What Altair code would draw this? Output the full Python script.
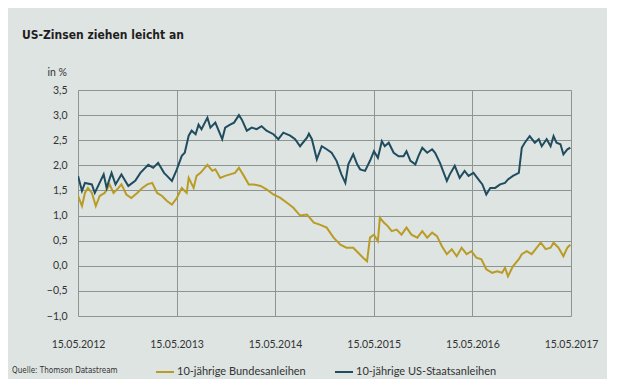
import altair as alt
import pandas as pd

# ---- data ----
us_year = [2012.37, 2012.41, 2012.44, 2012.51, 2012.54, 2012.63, 2012.66, 2012.71, 2012.75, 2012.81,
           2012.88, 2012.95, 2013.00, 2013.08, 2013.13, 2013.18, 2013.24, 2013.27, 2013.32, 2013.37,
           2013.42, 2013.45, 2013.49, 2013.52, 2013.56, 2013.59, 2013.62, 2013.68, 2013.71, 2013.76,
           2013.83, 2013.86, 2013.91, 2013.95, 2014.00, 2014.03, 2014.08, 2014.13, 2014.18, 2014.23,
           2014.28, 2014.35, 2014.40, 2014.45, 2014.52, 2014.57, 2014.62, 2014.69, 2014.71, 2014.74,
           2014.79, 2014.84, 2014.89, 2014.94, 2014.99, 2015.04, 2015.08, 2015.11, 2015.16, 2015.20,
           2015.23, 2015.28, 2015.33, 2015.37, 2015.41, 2015.45, 2015.48, 2015.52, 2015.57, 2015.62,
           2015.67, 2015.70, 2015.74, 2015.79, 2015.82, 2015.86, 2015.91, 2015.96, 2015.99, 2016.04,
           2016.11, 2016.14, 2016.19, 2016.24, 2016.29, 2016.33, 2016.38, 2016.43, 2016.47, 2016.51,
           2016.55, 2016.60, 2016.65, 2016.70, 2016.73, 2016.78, 2016.84, 2016.87, 2016.90, 2016.95,
           2017.00, 2017.04, 2017.07, 2017.12, 2017.16, 2017.19, 2017.22, 2017.26, 2017.29, 2017.33,
           2017.36]
us_value = [1.79, 1.49, 1.65, 1.62, 1.45, 1.82, 1.55, 1.85, 1.62, 1.82,
            1.59, 1.69, 1.85, 2.01, 1.95, 2.05, 1.85, 1.79, 1.69, 1.92,
            2.19, 2.25, 2.59, 2.69, 2.62, 2.81, 2.72, 2.95, 2.75, 2.85,
            2.52, 2.75, 2.81, 2.85, 3.00, 2.91, 2.69, 2.75, 2.72, 2.78,
            2.69, 2.62, 2.52, 2.65, 2.59, 2.52, 2.38, 2.55, 2.63, 2.52,
            2.12, 2.38, 2.32, 2.25, 2.09, 1.82, 1.65, 2.02, 2.22, 2.02,
            1.92, 1.89, 2.09, 2.28, 2.15, 2.48, 2.38, 2.45, 2.25, 2.18,
            2.18, 2.28, 2.09, 2.02, 2.18, 2.35, 2.25, 2.32, 2.25, 2.05,
            1.69, 1.82, 1.99, 1.75, 1.89, 1.79, 1.85, 1.72, 1.62, 1.42,
            1.55, 1.55, 1.62, 1.65, 1.72, 1.79, 1.85, 2.35, 2.45, 2.58,
            2.45, 2.52, 2.38, 2.52, 2.38, 2.58, 2.45, 2.42, 2.22, 2.32,
            2.35]

de_year = [2012.37, 2012.41, 2012.44, 2012.47, 2012.51, 2012.55, 2012.59, 2012.64, 2012.69, 2012.73,
           2012.78, 2012.81, 2012.86, 2012.91, 2012.97, 2013.02, 2013.07, 2013.12, 2013.17, 2013.22,
           2013.27, 2013.32, 2013.37, 2013.42, 2013.47, 2013.49, 2013.54, 2013.57, 2013.61, 2013.64,
           2013.68, 2013.73, 2013.76, 2013.81, 2013.86, 2013.91, 2013.96, 2014.00, 2014.05, 2014.10,
           2014.15, 2014.22, 2014.28, 2014.35, 2014.42, 2014.49, 2014.55, 2014.62, 2014.69, 2014.76,
           2014.82, 2014.89, 2014.96, 2015.03, 2015.09, 2015.16, 2015.21, 2015.26, 2015.30, 2015.33,
           2015.37, 2015.41, 2015.43, 2015.47, 2015.51, 2015.55, 2015.60, 2015.65, 2015.70, 2015.75,
           2015.81, 2015.86, 2015.91, 2015.96, 2016.01, 2016.06, 2016.11, 2016.16, 2016.21, 2016.26,
           2016.31, 2016.36, 2016.41, 2016.46, 2016.51, 2016.57, 2016.62, 2016.67, 2016.70, 2016.73,
           2016.78, 2016.84, 2016.87, 2016.92, 2016.97, 2017.02, 2017.06, 2017.11, 2017.16, 2017.19,
           2017.24, 2017.29, 2017.33, 2017.36]
de_value = [1.39, 1.19, 1.45, 1.55, 1.45, 1.19, 1.39, 1.45, 1.62, 1.45,
            1.55, 1.62, 1.42, 1.35, 1.45, 1.55, 1.62, 1.65, 1.45, 1.39,
            1.29, 1.22, 1.35, 1.55, 1.45, 1.75, 1.55, 1.79, 1.85, 1.92,
            2.01, 1.89, 1.92, 1.75, 1.79, 1.82, 1.85, 1.95, 1.79, 1.62,
            1.62, 1.59, 1.52, 1.42, 1.35, 1.25, 1.16, 1.00, 1.02, 0.86,
            0.82, 0.76, 0.56, 0.42, 0.36, 0.36, 0.26, 0.16, 0.09, 0.56,
            0.62, 0.49, 0.96, 0.86, 0.79, 0.69, 0.72, 0.62, 0.76, 0.62,
            0.56, 0.69, 0.56, 0.66, 0.59, 0.39, 0.23, 0.33, 0.19, 0.36,
            0.23, 0.29, 0.16, 0.13, -0.07, -0.14, -0.11, -0.14, -0.04, -0.21,
            -0.01, 0.13, 0.23, 0.29, 0.23, 0.36, 0.46, 0.33, 0.36, 0.46,
            0.36, 0.19, 0.36, 0.42]

series_names = ["10-jährige Bundesanleihen", "10-jährige US-Staatsanleihen"]
series_colors = ["#b99c25", "#1f4d5f"]
y_ticks = [-1.0, -0.5, 0.0, 0.5, 1.0, 1.5, 2.0, 2.5, 3.0, 3.5]
x_tick_years = [2012, 2013, 2014, 2015, 2016, 2017]
title_text = "US-Zinsen ziehen leicht an"
unit_text = "in %"
source_text = "Quelle: Thomson Datastream"


def to_date(y):
    base = pd.Timestamp(int(y), 1, 1)
    return base + pd.Timedelta(days=(y - int(y)) * 365.25)


df = pd.concat([
    pd.DataFrame({"date": [to_date(y) for y in de_year], "value": de_value, "series": series_names[0]}),
    pd.DataFrame({"date": [to_date(y) for y in us_year], "value": us_value, "series": series_names[1]}),
], ignore_index=True)

BG = "#dee4e2"
GRID = "#8e9492"
TXT = "#333333"
FONT = "Lato"
NARROW = "'DejaVu Sans Condensed', Roboto, sans-serif"

x_vals = [alt.DateTime(year=y, month=5, date=15) for y in x_tick_years]

lines = alt.Chart(df).mark_line(strokeWidth=2, clip=True).encode(
    x=alt.X("date:T",
            scale=alt.Scale(domain=[x_vals[0], x_vals[-1]]),
            axis=alt.Axis(values=x_vals, format="%d.%m.%Y", title=None,
                          grid=True, gridColor=GRID, gridWidth=1, gridOpacity=1,
                          domain=False, ticks=False, labelPadding=23,
                          labelFont=FONT, labelFontSize=10.5, labelColor=TXT,
                          labelFlush=False, labelOverlap=False)),
    y=alt.Y("value:Q",
            scale=alt.Scale(domain=[-1.0, 3.5], nice=False, zero=False),
            axis=alt.Axis(values=y_ticks,
                          labelExpr="replace(format(datum.value, '.1f'), '.', ',')",
                          title=unit_text, titleAngle=0, titleX=-31, titleY=-18,
                          titleAlign="left", titleBaseline="middle",
                          titleFont=FONT, titleFontSize=10.5, titleFontWeight="normal",
                          titleColor=TXT,
                          grid=True, gridColor=GRID, gridWidth=1, gridOpacity=1,
                          domain=False, ticks=False, labelPadding=11,
                          labelFont=FONT, labelFontSize=10.5, labelColor=TXT)),
    color=alt.Color("series:N",
                    scale=alt.Scale(domain=series_names, range=series_colors),
                    legend=alt.Legend(orient="none", legendX=77, legendY=272,
                                      direction="horizontal", title=None,
                                      symbolType="stroke", symbolSize=324,
                                      symbolStrokeWidth=2, labelOffset=2,
                                      columnPadding=25,
                                      labelFont=FONT, labelFontSize=11,
                                      labelColor=TXT)),
)

source = alt.Chart(alt.Data(values=[{"t": source_text}])).mark_text(
    align="left", baseline="middle", font=NARROW, fontSize=8, color=TXT
).encode(x=alt.value(-66), y=alt.value(281), text="t:N")

chart = alt.layer(lines, source).properties(
    width=493, height=226,
    title=alt.TitleParams(title_text, anchor="start", frame="group", dx=-56,
                          font=NARROW, fontSize=12, fontWeight="bold",
                          color="#1e1e1e", offset=25),
    autosize=alt.AutoSizeParams(type="none"),
    padding={"left": 70, "top": 82, "right": 36, "bottom": 63},
).configure(background=BG).configure_view(stroke=None)

chart.save("out.html", embed_options={"renderer": "svg", "actions": False})
